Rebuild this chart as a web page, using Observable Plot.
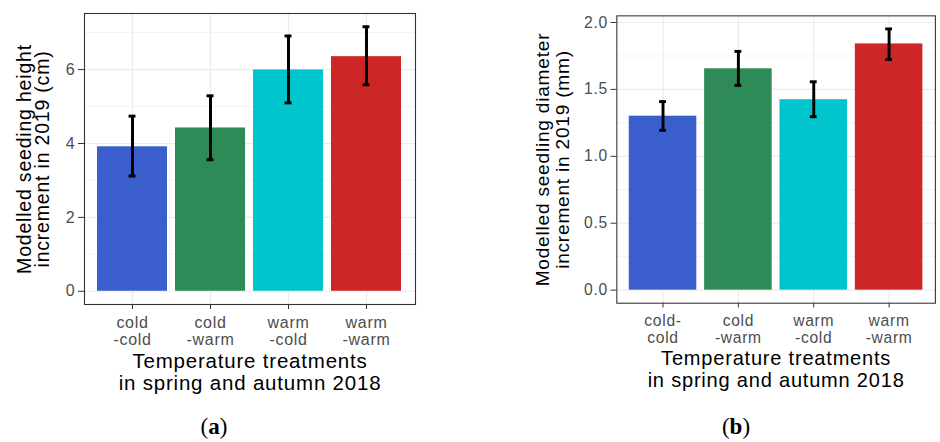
<!DOCTYPE html>
<html><head><meta charset="utf-8">
<script src="https://cdn.jsdelivr.net/npm/d3@7"></script>
<script src="https://cdn.jsdelivr.net/npm/@observablehq/plot@0.6"></script>
<style>
html,body{margin:0;padding:0;background:#fff;width:940px;height:442px;overflow:hidden;}
#wrap{position:relative;width:940px;height:442px;overflow:hidden;}
.panel{position:absolute;top:0;}
.cap{position:absolute;top:414px;font-family:"Liberation Serif","DejaVu Serif",serif;font-size:23px;color:#000;transform:translateX(-50%);white-space:nowrap;}
svg text{font-family:"Liberation Sans",Arial,sans-serif;}
g[aria-label="x-axis tick label"] text{letter-spacing:0.7px;}
g[aria-label="y-axis tick label"] text{letter-spacing:0.8px;}
g[aria-label="text"] text{letter-spacing:0.8px;}
</style>
</head><body>
<div id="wrap">
<div id="pa" class="panel" style="left:0px"></div>
<div id="pb" class="panel" style="left:480px"></div>
<div class="cap" style="left:214px">(<b>a</b>)</div>
<div class="cap" style="left:736px">(<b>b</b>)</div>
</div>
<script>
// ---- data ----
const categories = ["cold-cold", "cold-warm", "warm-cold", "warm-warm"];
const tickLabelsA = ["cold\n-cold", "cold\n-warm", "warm\n-cold", "warm\n-warm"];
const tickLabelsB = ["cold-\ncold", "cold\n-warm", "warm\n-cold", "warm\n-warm"];
const barColors = ["#3A5FCD", "#2E8B57", "#00C5CD", "#CD2626"];

const heightMean = [3.91, 4.42, 5.99, 6.35];
const heightLow  = [3.12, 3.56, 5.10, 5.59];
const heightHigh = [4.74, 5.29, 6.91, 7.16];

const diamMean = [1.30, 1.654, 1.423, 1.84];
const diamLow  = [1.194, 1.53, 1.296, 1.723];
const diamHigh = [1.409, 1.784, 1.557, 1.952];

const yTicksA = [0, 2, 4, 6];
const yMinorA = [1, 3, 5, 7];
const yTicksB = [0, 0.5, 1.0, 1.5, 2.0];
const yMinorB = [0.25, 0.75, 1.25, 1.75];

const yTitleA = "Modelled seeding height\nincrement in 2019 (cm)";
const yTitleB = "Modelled seedling diameter\nincrement in 2019 (mm)";
const xTitle = "Temperature treatments\nin spring and autumn 2018";

function panel(opts) {
  const {mean, low, high, labels, yTicks, yMinor, yFmt, yTitle, width, height, mL, mR, mT, mB, yTitleDx, yTitleLH} = opts;
  const rows = categories.map((c, i) => ({cat: c, mean: mean[i], low: low[i], high: high[i]}));
  const lo = Math.min(0, d3.min(low));
  const hi = d3.max(high);
  const ex = (hi - lo) * 0.05;
  const step = (width - mL - mR) / 4.2;
  const capInset = step * 0.4;
  return Plot.plot({
    width, height,
    marginLeft: mL, marginRight: mR, marginTop: mT, marginBottom: mB,
    style: {fontFamily: "Liberation Sans, Arial, sans-serif", background: "transparent", overflow: "visible"},
    x: {type: "band", domain: categories, paddingInner: 0.1, paddingOuter: 0.15, align: 0.5},
    y: {domain: [lo - ex, hi + ex]},
    color: {domain: categories, range: barColors},
    marks: [
      Plot.gridY(yMinor, {stroke: "#ebebeb", strokeOpacity: 1, strokeWidth: 0.6}),
      Plot.gridY(yTicks, {stroke: "#ebebeb", strokeOpacity: 1, strokeWidth: 1.2}),
      Plot.gridX(categories, {stroke: "#ebebeb", strokeOpacity: 1, strokeWidth: 1.2}),
      Plot.barY(rows, {x: "cat", y: "mean", fill: "cat"}),
      Plot.ruleX(rows, {x: "cat", y1: "low", y2: "high", stroke: "#000", strokeWidth: 3}),
      Plot.tickY(rows, {x: "cat", y: "high", stroke: "#000", strokeWidth: 3, insetLeft: capInset, insetRight: capInset}),
      Plot.tickY(rows, {x: "cat", y: "low", stroke: "#000", strokeWidth: 3, insetLeft: capInset, insetRight: capInset}),
      Plot.frame({stroke: "#333", strokeWidth: 1.1}),
      Plot.axisY(yTicks, {tickSize: 6, tickPadding: 3, fontSize: 16, tickFormat: yFmt, stroke: "#333", fill: "#4d4d4d", label: null}),
      Plot.axisX({tickSize: 5, tickPadding: 6, fontSize: 16, lineHeight: 1.08, tickFormat: d => labels[categories.indexOf(d)], stroke: "#333", fill: "#4d4d4d", label: null}),
      Plot.text([yTitle], {text: d => d, frameAnchor: "left", textAnchor: "middle", lineAnchor: "middle", dx: yTitleDx, rotate: -90, fontSize: 19.5, lineHeight: yTitleLH, fill: "#000"}),
      Plot.text([xTitle], {text: d => d, frameAnchor: "bottom", textAnchor: "middle", lineAnchor: "middle", dy: 67, fontSize: 20.5, lineHeight: 1.08, fill: "#000"})
    ]
  });
}

document.getElementById("pa").append(panel({
  mean: heightMean, low: heightLow, high: heightHigh, labels: tickLabelsA,
  yTicks: yTicksA, yMinor: yMinorA, yFmt: d => String(d), yTitle: yTitleA,
  width: 430, height: 400, mL: 84, mR: 15, mT: 13, mB: 96, yTitleDx: -50, yTitleLH: 0.92
}));
document.getElementById("pb").append(panel({
  mean: diamMean, low: diamLow, high: diamHigh, labels: tickLabelsB,
  yTicks: yTicksB, yMinor: yMinorB, yFmt: d => d.toFixed(1), yTitle: yTitleB,
  width: 470, height: 400, mL: 139.3, mR: 5.2, mT: 15.7, mB: 90.7, yTitleDx: -66, yTitleLH: 1.05
}));
</script>
</body></html>
